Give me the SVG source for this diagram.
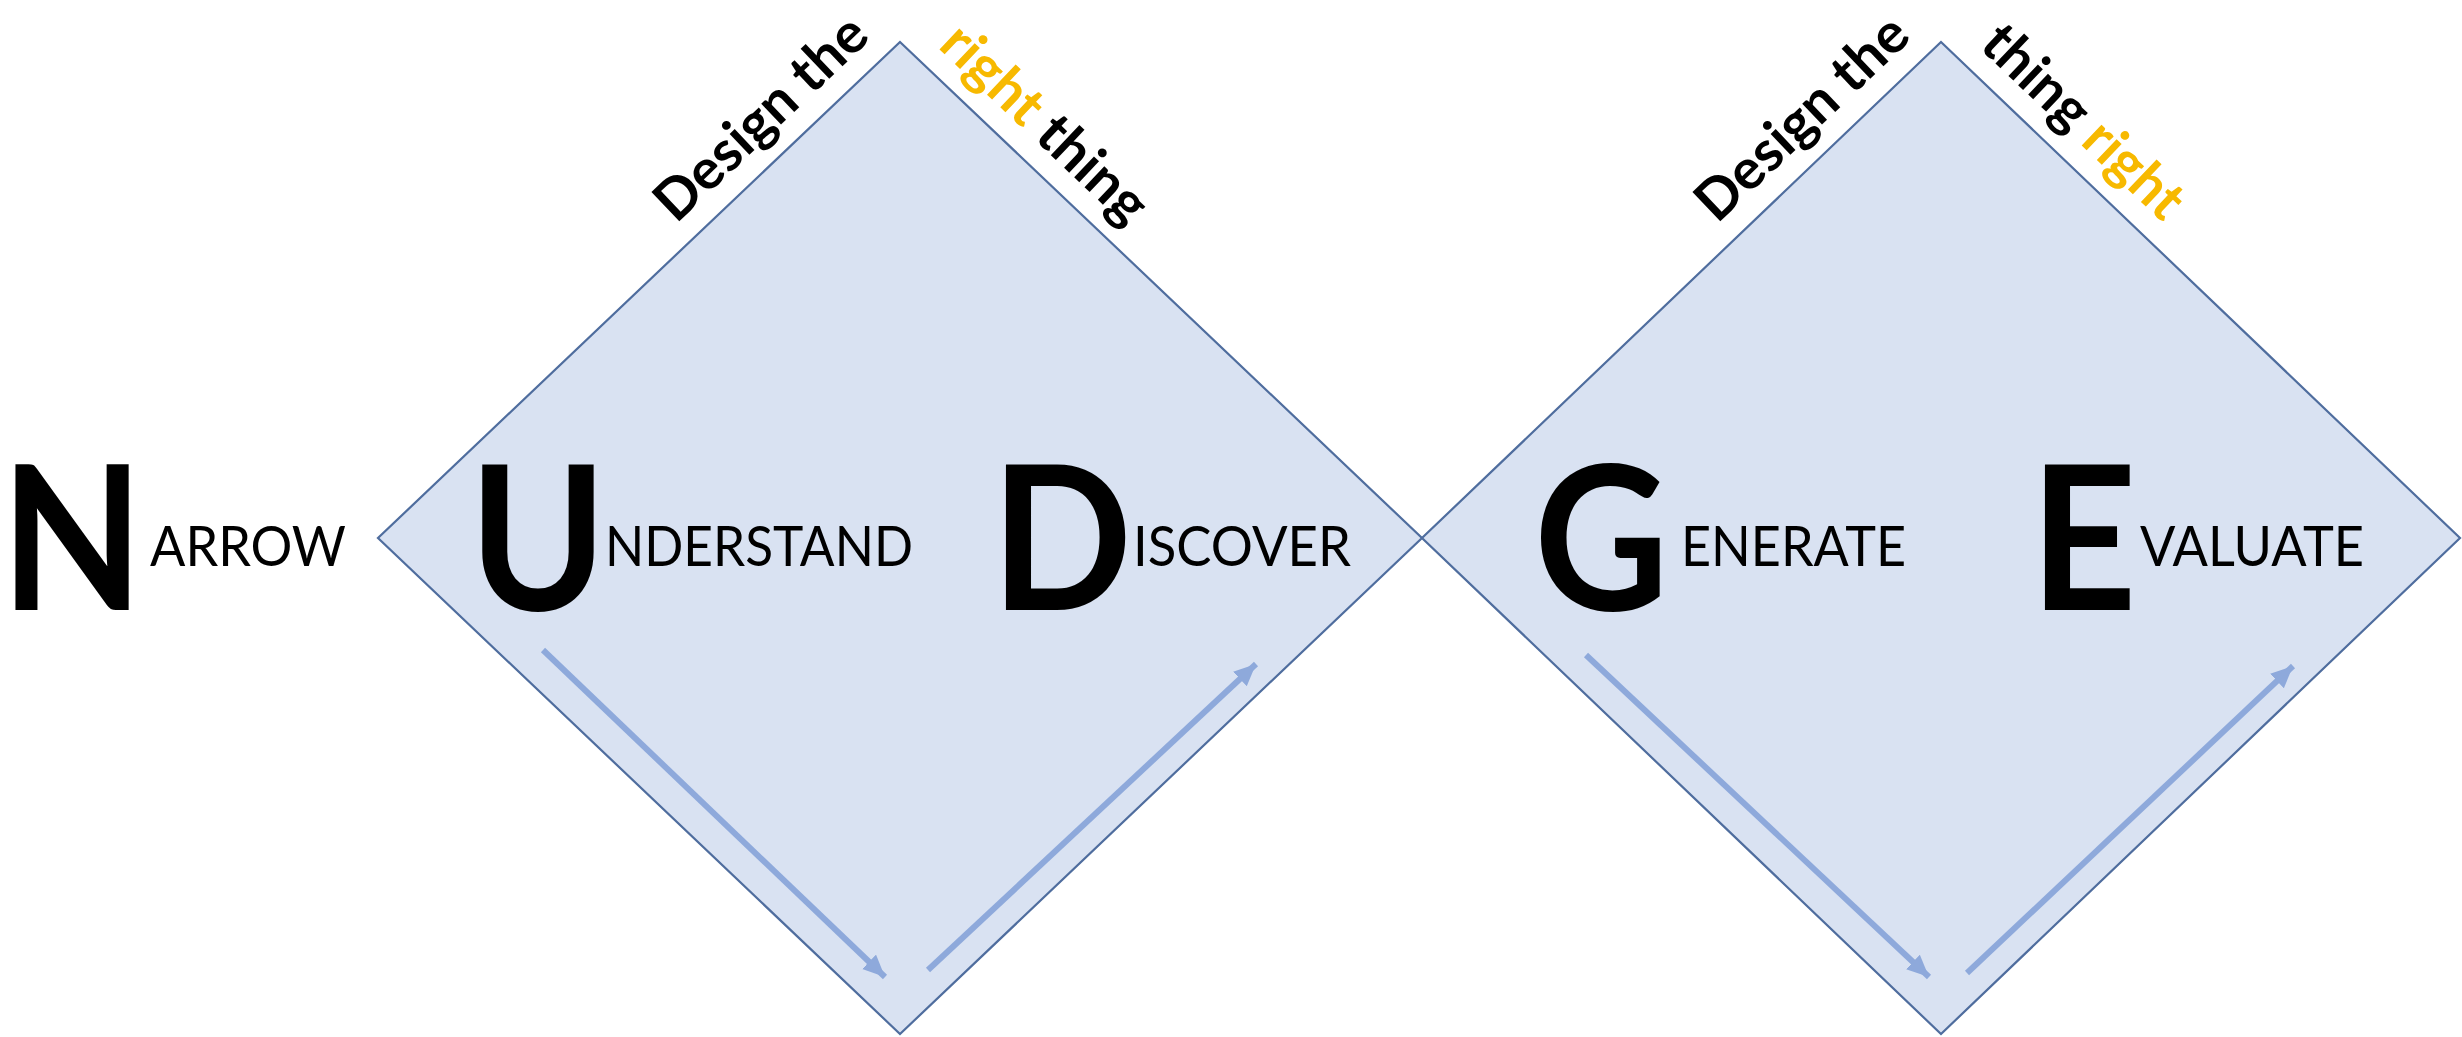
<svg xmlns="http://www.w3.org/2000/svg" width="2462" height="1037" viewBox="0 0 2462 1037">
  <style>
    .diamond { fill: #D9E2F2; stroke: #4F6D9E; stroke-width: 2.2; }
    .flow { stroke: #8EA9DB; stroke-width: 6; fill: none; marker-end: url(#head); }
    .big { font-family: Lato, "Open Sans", sans-serif; font-weight: 700; font-size: 202px; fill: #000; }
    .word { font-family: Lato, "Open Sans", sans-serif; font-weight: 400; font-size: 57px; fill: #000; }
    .slogan { font-family: Lato, "Open Sans", sans-serif; font-weight: 700; font-size: 56px; fill: #000; }
    .accent { fill: #F7B900; }
  </style>
  <defs>
    <marker id="head" markerUnits="userSpaceOnUse" markerWidth="26" markerHeight="22" refX="22" refY="10" orient="auto">
      <path d="M0,0 L22,10 L0,20 z" fill="#8EA9DB"/>
    </marker>
  </defs>

  <rect width="2462" height="1037" fill="#FFFFFF"/>

  <!-- first diamond: design the right thing -->
  <g id="diamond-right-thing">
    <polygon class="diamond" points="900,42 1422,538 900,1034 378,538"/>
    <text class="slogan" transform="translate(676,224.5) rotate(-43.54)" textLength="270" lengthAdjust="spacingAndGlyphs">Design the</text>
    <text class="slogan" transform="translate(937,47) rotate(43.54)" textLength="262" lengthAdjust="spacingAndGlyphs"><tspan class="accent">right</tspan> thing</text>
  </g>

  <!-- second diamond: design the thing right -->
  <g id="diamond-thing-right">
    <polygon class="diamond" points="1941,42 2460,538 1941,1034 1422,538"/>
    <text class="slogan" transform="translate(1717,224.5) rotate(-43.54)" textLength="270" lengthAdjust="spacingAndGlyphs">Design the</text>
    <text class="slogan" transform="translate(1978,47) rotate(43.54)" textLength="255" lengthAdjust="spacingAndGlyphs">thing <tspan class="accent">right</tspan></text>
  </g>

  <!-- stage words: a large initial, the rest in small capitals -->
  <g id="narrow">
    <text class="big" transform="translate(0.5,610) scale(0.92,1)">N</text>
    <text class="word" x="150" y="566" textLength="196" lengthAdjust="spacingAndGlyphs">ARROW</text>
  </g>
  <g id="understand">
    <text class="big" transform="translate(469,610) scale(0.92,1)">U</text>
    <text class="word" x="605" y="566" textLength="308" lengthAdjust="spacingAndGlyphs">NDERSTAND</text>
  </g>
  <g id="discover">
    <text class="big" transform="translate(991,610) scale(0.92,1)">D</text>
    <text class="word" x="1133" y="566" textLength="218" lengthAdjust="spacingAndGlyphs">ISCOVER</text>
  </g>
  <g id="generate">
    <text class="big" transform="translate(1534,610) scale(0.92,1)">G</text>
    <text class="word" x="1681" y="566" textLength="225" lengthAdjust="spacingAndGlyphs">ENERATE</text>
  </g>
  <g id="evaluate">
    <text class="big" transform="translate(2030,610) scale(0.92,1)">E</text>
    <text class="word" x="2140" y="566" textLength="224" lengthAdjust="spacingAndGlyphs">VALUATE</text>
  </g>

  <!-- flow arrows along the lower edges -->
  <g id="connectors">
    <line class="flow" x1="543" y1="650" x2="885" y2="977"/>
    <line class="flow" x1="928" y1="970" x2="1256" y2="664"/>
    <line class="flow" x1="1586" y1="655" x2="1929" y2="977"/>
    <line class="flow" x1="1967" y1="973" x2="2293" y2="666"/>
  </g>
</svg>
